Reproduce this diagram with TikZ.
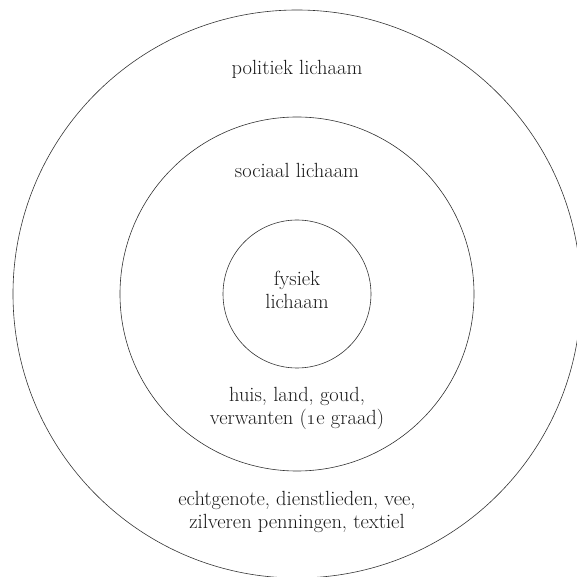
\documentclass[tikz,border=0pt]{standalone}
\begin{document}
\begin{tikzpicture}[x=1pt, y=1pt,
        ring/.style={circle, draw=black!80, line width=0.6pt, inner sep=0pt},
        ringtext/.style={align=center, anchor=base, inner sep=0pt, text=black!90, font=\fontsize{20.5}{23}\selectfont}]
        \useasboundingbox (-297,-283) rectangle (279,294);
        
        % Draw circles
        \node[ring, minimum size=568pt] (politiek) at (0,0) {};
        \node[ring, minimum size=354pt] (sociaal) at (0,0) {};
        \node[ring, minimum size=148pt] (fysiek) at (0,0) {};
        
        % Labels (base = last line)
        \node[ringtext] (politiektitel) at (0,219) {politiek lichaam};
        \node[ringtext] (sociaaltitel) at (0,116) {sociaal lichaam};
        \node[ringtext] (fysiektitel) at (0,-15) {fysiek\\lichaam};
        \node[ringtext] (sociaalbezit) at (0,-130) {huis, land, goud,\\verwanten (\oldstylenums{1}e graad)};
        \node[ringtext] (politiekbezit) at (0,-234) {echtgenote, dienstlieden, vee,\\zilveren penningen, textiel};
    \end{tikzpicture}
\end{document}
